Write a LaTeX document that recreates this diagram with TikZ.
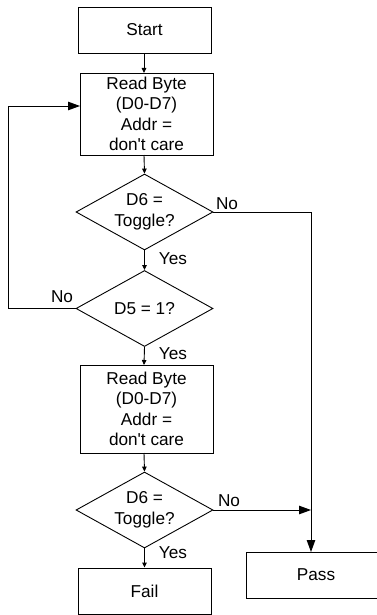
\documentclass[tikz,border=0pt]{standalone}
\usepackage{fontspec}
\setmainfont{Liberation Sans}
\usetikzlibrary{shapes.geometric,arrows.meta}
\begin{document}
\begin{tikzpicture}[x=1pt,y=-1pt,
  every node/.style={font=\fontsize{17.2}{20.5}\selectfont},
  box/.style={draw,line width=0.9pt,minimum width=133pt,align=center,inner sep=0pt},
  decision/.style={draw,line width=0.9pt,diamond,aspect=1.8,minimum width=137pt,minimum height=76pt,inner sep=0pt,align=center},
  lbl/.style={inner sep=0pt},
  flow/.style={line width=0.9pt,-{Triangle[length=5pt,width=4.5pt]}},
  bigflow/.style={line width=0.9pt,-{Triangle[length=12pt,width=8.5pt]}},
  wire/.style={line width=0.9pt}]
\useasboundingbox (0,0) rectangle (376,615);

% process boxes
\node[box,minimum height=46pt] (start) at (144.5,30) {Start};
\node[box,minimum height=82pt] (read1) at (146.5,114) {Read Byte\\(D0-D7)\\Addr =\\don\textquotesingle t care};
\node[decision] (d1) at (144.5,212) {D6 =\\Toggle?};
\node[decision] (d2) at (144.5,308.5) {D5 = 1?};
\node[box,minimum height=88pt] (read2) at (146.5,409) {Read Byte\\(D0-D7)\\Addr =\\don\textquotesingle t care};
\node[decision] (d3) at (144.5,510) {D6 =\\Toggle?};
\node[box,minimum height=46pt] (fail) at (144.5,591) {Fail};
\node[box,minimum width=140pt,minimum height=46pt] (pass) at (316,575) {Pass};

% routing points
\coordinate (rtop) at (311,212);
\coordinate (rjoin) at (311,510);
\coordinate (lbot) at (8,308.5);
\coordinate (ltop) at (8,106);
\coordinate (lend) at (80,106);

% connectors
\draw[flow] (start.south -| 144,0) -- (144,73);
\draw[flow] (144,155) -- (d1.north);
\draw[flow] (d1.south) -- (d2.north);
\draw[flow] (d2.south) -- (144,365);
\draw[flow] (144,453) -- (d3.north);
\draw[flow] (d3.south) -- (fail.north);
\draw[bigflow] (d1.east) -- (rtop) -- (311,552);
\draw[bigflow] (d3.east) -- (rjoin);
\draw[bigflow] (d2.west) -- (lbot) -- (ltop) -- (lend);

% branch labels
\node[lbl] (no1) at (227,204) {No};
\node[lbl] (yes1) at (173,259) {Yes};
\node[lbl] (no2) at (62,297) {No};
\node[lbl] (yes2) at (173,354) {Yes};
\node[lbl] (no3) at (229,501) {No};
\node[lbl] (yes3) at (173,553) {Yes};
\end{tikzpicture}
\end{document}
